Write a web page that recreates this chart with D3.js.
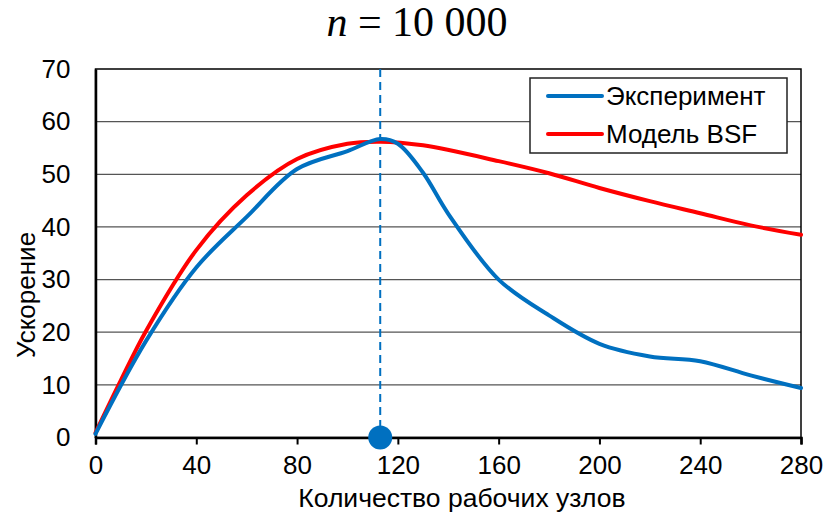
<!DOCTYPE html>
<html>
<head>
<meta charset="utf-8">
<script src="https://cdn.jsdelivr.net/npm/d3@7"></script>
<style>
  body { margin: 0; background: #fff; }
  svg { display: block; }
  .tick text { font-family: "Liberation Sans", Arial, sans-serif; }
</style>
</head>
<body>
<svg id="chart" width="825" height="512"></svg>
<script>
"use strict";

// values
const expNodes = [0, 20, 40, 60, 80, 100, 113, 120, 130, 140, 160, 180, 200, 220, 240, 260, 280];
const expSpeedup = [0.7, 18.3, 32.3, 41.9, 51, 54.4, 56.7, 55.8, 50.3, 42.5, 30, 23.2, 17.8, 15.4, 14.5, 11.8, 9.4];
const bsfNodes = [0, 10, 20, 40, 60, 80, 100, 113, 130, 160, 180, 200, 220, 240, 260, 280];
const bsfSpeedup = [0.9, 10.8, 20.2, 35.6, 46, 52.9, 55.8, 56.2, 55.5, 52.5, 50.2, 47.4, 44.9, 42.6, 40.3, 38.5];
const xTicks = [0, 40, 80, 120, 160, 200, 240, 280];
const yTicks = [0, 10, 20, 30, 40, 50, 60, 70];
const peakNode = 113;
const seriesNames = ["Эксперимент", "Модель BSF"];
const COLORS = { exp: "#0070C0", bsf: "#FF0000" };

const margin = { left: 95.5, right: 24, top: 69, bottom: 74.5 };
const width = 825 - margin.left - margin.right;
const height = 512 - margin.top - margin.bottom;

const svg = d3.select("#chart");
const g = svg.append("g").attr("transform", `translate(${margin.left},${margin.top})`);

const x = d3.scaleLinear().domain([0, 280]).range([0, width]);
const y = d3.scaleLinear().domain([0, 70]).range([height, 0]);

// grid
g.selectAll(".grid").data(yTicks.filter((d) => d > 0 && d < 70)).enter()
    .append("line")
    .attr("x1", 0).attr("x2", width)
    .attr("y1", (d) => y(d)).attr("y2", (d) => y(d))
    .attr("stroke", "#555").attr("stroke-width", 1.3);

// frame
g.append("rect").attr("width", width).attr("height", height)
    .attr("fill", "none").attr("stroke", "#000").attr("stroke-width", 1.5);

// axes
const xAxis = d3.axisBottom(x).tickValues(xTicks).tickSize(7).tickPadding(11);
const axX = g.append("g").attr("transform", `translate(0,${height})`).call(xAxis);
axX.select(".domain").attr("stroke-width", 2.5);
axX.selectAll(".tick line").attr("stroke-width", 2);
axX.selectAll(".tick text").attr("font-size", 26).attr("fill", "#000");

const yAxis = d3.axisLeft(y).tickValues(yTicks).tickSize(0).tickPadding(25);
const axY = g.append("g").call(yAxis);
axY.select(".domain").attr("stroke-width", 2.5);
axY.selectAll(".tick text").attr("font-size", 26).attr("fill", "#000");

// dashed marker for the peak
g.append("line")
    .attr("x1", x(peakNode)).attr("x2", x(peakNode))
    .attr("y1", 0).attr("y2", y(0))
    .attr("stroke", COLORS.exp).attr("stroke-width", 2)
    .attr("stroke-dasharray", "8,5");

const line = d3.line()
    .curve(d3.curveCatmullRom.alpha(0.5))
    .x((d) => x(d[0]))
    .y((d) => y(d[1]));

g.append("path")
    .datum(bsfNodes.map((n, i) => [n, bsfSpeedup[i]]))
    .attr("d", line)
    .attr("fill", "none").attr("stroke", COLORS.bsf).attr("stroke-width", 4)
    .attr("stroke-linecap", "round");

g.append("path")
    .datum(expNodes.map((n, i) => [n, expSpeedup[i]]))
    .attr("d", line)
    .attr("fill", "none").attr("stroke", COLORS.exp).attr("stroke-width", 4)
    .attr("stroke-linecap", "round");

g.append("circle")
    .attr("cx", x(peakNode)).attr("cy", y(0)).attr("r", 12)
    .attr("fill", COLORS.exp);

// legend
const legend = svg.append("g").attr("transform", "translate(530,78)");
legend.append("rect").attr("width", 257).attr("height", 75)
    .attr("fill", "#fff").attr("stroke", "#222").attr("stroke-width", 1.5);
[COLORS.exp, COLORS.bsf].forEach((c, i) => {
    const ly = 18 + i * 38;
    legend.append("line").attr("x1", 18).attr("x2", 72).attr("y1", ly).attr("y2", ly)
        .attr("stroke", c).attr("stroke-width", 4).attr("stroke-linecap", "round");
    legend.append("text").attr("x", 76).attr("y", ly + 9)
        .attr("font-family", "Liberation Sans, Arial, sans-serif").attr("font-size", 26)
        .text(seriesNames[i]);
});

// titles
const title = svg.append("text").attr("x", 417).attr("y", 36)
    .attr("text-anchor", "middle")
    .attr("font-family", "Liberation Serif, Times New Roman, serif").attr("font-size", 42);
title.append("tspan").attr("font-style", "italic").text("n");
title.append("tspan").text(" = 10 000");

svg.append("text").attr("x", 462).attr("y", 507)
    .attr("text-anchor", "middle")
    .attr("font-family", "Liberation Sans, Arial, sans-serif").attr("font-size", 26.5)
    .text("Количество рабочих узлов");

svg.append("text").attr("transform", "translate(35,295) rotate(-90)")
    .attr("text-anchor", "middle")
    .attr("font-family", "Liberation Sans, Arial, sans-serif").attr("font-size", 26)
    .text("Ускорение");
</script>
</body>
</html>
